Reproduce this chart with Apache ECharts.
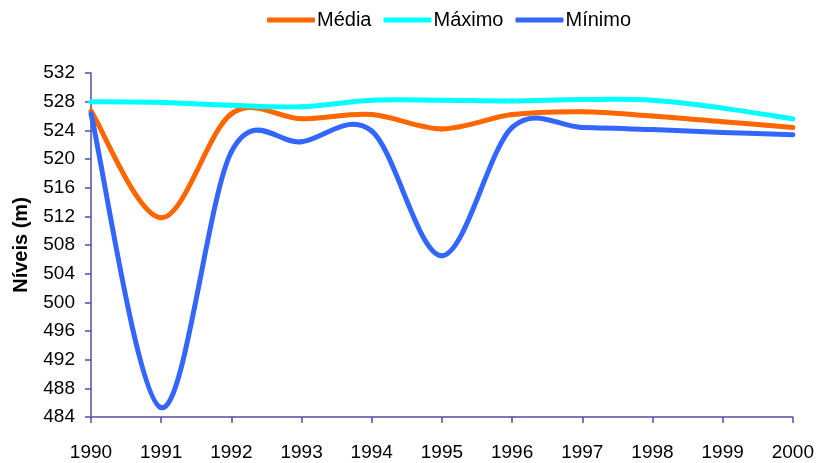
<!DOCTYPE html>
<html>
<head>
<meta charset="utf-8">
<script src="https://cdn.jsdelivr.net/npm/echarts@6/dist/echarts.min.js"></script>
<style>
  html, body { margin: 0; padding: 0; background: #fff; }
  #chart { width: 817px; height: 463px; }
</style>
</head>
<body>
<div id="chart"></div>
<script>
// Reservoir levels per year (m)
const years = ['1990', '1991', '1992', '1993', '1994', '1995', '1996', '1997', '1998', '1999', '2000'];
const media  = [526.7, 511.8, 526.3, 525.6, 526.2, 524.2, 526.2, 526.6, 526.0, 525.2, 524.4];
const maximo = [528.0, 527.9, 527.5, 527.3, 528.2, 528.2, 528.1, 528.3, 528.2, 527.1, 525.6];
const minimo = [526.3, 485.3, 521.0, 522.4, 523.9, 506.5, 524.4, 524.4, 524.1, 523.7, 523.4];
const yTicks = { min: 484, max: 532, step: 4 };

const axisColor = '#4d4da6';
const font = 'Arial, "Liberation Sans", sans-serif';

// Smoothed line drawn as cubic Bezier segments (Catmull-Rom style tangents),
// each point projected through the chart's own axes with api.coord.
function smoothSeries(name, values, color) {
  return {
    name: name,
    type: 'custom',
    coordinateSystem: 'cartesian2d',
    data: values.map((v, i) => [i, v]),
    encode: { x: 0, y: 1 },
    itemStyle: { color: color },
    renderItem: function (params, api) {
      const i = params.dataIndex;
      const n = values.length;
      if (i >= n - 1) return null;
      const pt = k => {
        const j = Math.max(0, Math.min(n - 1, k));
        return api.coord([j, values[j]]);
      };
      const p0 = pt(i - 1), p1 = pt(i), p2 = pt(i + 1), p3 = pt(i + 2);
      return {
        type: 'bezierCurve',
        shape: {
          x1: p1[0], y1: p1[1],
          x2: p2[0], y2: p2[1],
          cpx1: p1[0] + (p2[0] - p0[0]) / 6, cpy1: p1[1] + (p2[1] - p0[1]) / 6,
          cpx2: p2[0] - (p3[0] - p1[0]) / 6, cpy2: p2[1] - (p3[1] - p1[1]) / 6
        },
        style: { stroke: color, lineWidth: 5, lineCap: 'round', fill: null }
      };
    }
  };
}

const chart = echarts.init(document.getElementById('chart'), null, { renderer: 'canvas' });
chart.setOption({
  animation: false,
  backgroundColor: '#ffffff',
  textStyle: { fontFamily: font },
  legend: {
    top: 5,
    left: 262,
    icon: 'roundRect',
    itemWidth: 48,
    itemHeight: 5,
    itemGap: 12,
    textStyle: { fontSize: 20, color: '#000', fontFamily: font, padding: [0, 0, 0, -3] },
    data: ['Média', 'Máximo', 'Mínimo']
  },
  grid: { left: 91, right: 24, top: 73, bottom: 46, containLabel: false },
  xAxis: {
    type: 'category',
    data: years,
    boundaryGap: false,
    axisLine: { lineStyle: { color: axisColor, width: 1.5 } },
    axisTick: { show: true, length: 6, alignWithLabel: true, lineStyle: { color: axisColor, width: 1.5 } },
    axisLabel: { color: '#000', fontSize: 19, margin: 26, fontFamily: font },
    splitLine: { show: false }
  },
  yAxis: {
    type: 'value',
    min: yTicks.min,
    max: yTicks.max,
    interval: yTicks.step,
    name: 'Níveis (m)',
    nameLocation: 'middle',
    nameGap: 60,
    nameTextStyle: { fontSize: 20, fontWeight: 'bold', color: '#000', fontFamily: font },
    axisLine: { show: true, lineStyle: { color: axisColor, width: 1.5 } },
    axisTick: { show: true, length: 6, lineStyle: { color: axisColor, width: 1.5 } },
    axisLabel: { color: '#000', fontSize: 19, margin: 16, fontFamily: font },
    splitLine: { show: false }
  },
  series: [
    smoothSeries('Média', media, '#FF6600'),
    smoothSeries('Máximo', maximo, '#00FFFF'),
    smoothSeries('Mínimo', minimo, '#3366FF')
  ]
});
</script>
</body>
</html>
